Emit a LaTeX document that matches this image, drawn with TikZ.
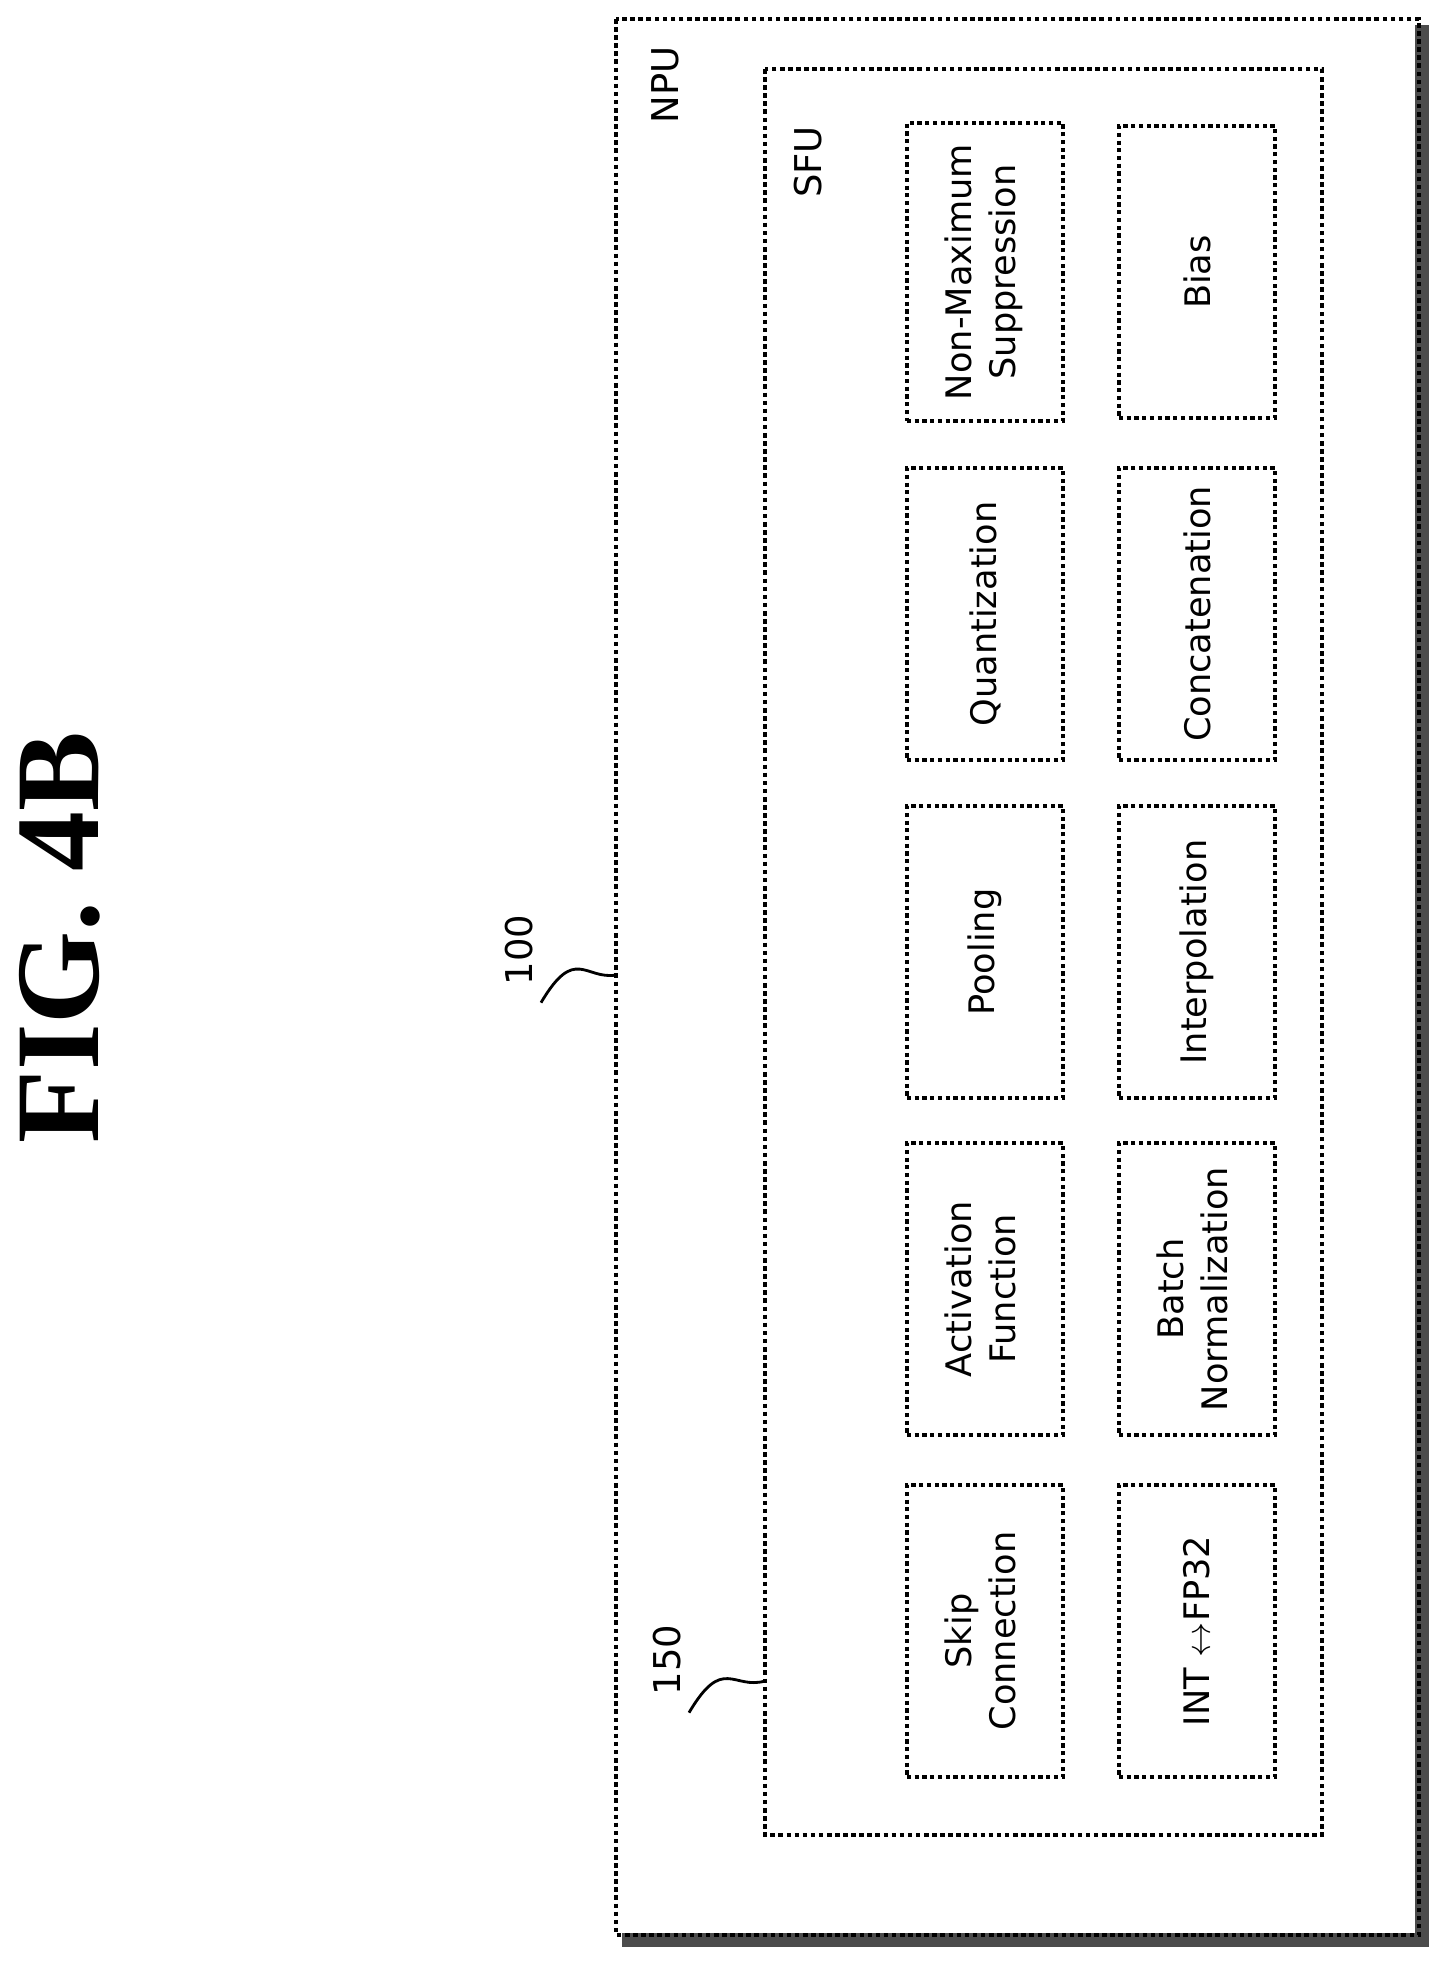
\documentclass[tikz,border=0pt]{standalone}
\usepackage{fontspec}
\setmainfont{DejaVu Sans}
\newfontfamily\figfont{Liberation Serif}
\usetikzlibrary{shapes,arrows}
\tikzstyle{block} = [rectangle, draw, densely dotted, line width=1.2pt, inner sep=0pt,
    minimum width=1.56cm, minimum height=2.92cm, align=center, font=\fontsize{10}{12.5}\selectfont]
\tikzstyle{frame} = [draw, densely dotted, line width=1.3pt]
\tikzstyle{lbl} = [rotate=90, font=\fontsize{10.5}{13}\selectfont]

\begin{document}
\begin{tikzpicture}[x=0.01cm, y=-0.01cm]
		\useasboundingbox (0,0) rectangle (1451,1965);
		\node [rotate=90, font=\figfont\bfseries\fontsize{34}{40}\selectfont] (fig) at (60,938) {FIG. 4B};
		
		\draw [line width=4pt, gray!60!black] (1422,25) -- (1422,1940) -- (622,1940);
		\draw [frame] (616,19) rectangle (1419,1935);
		\draw [frame] (765,69) rectangle (1322,1835);
		\node [lbl] (npu) at (665,85) {NPU};
		\node [lbl] (sfu) at (808,162) {SFU};
		
		\node [lbl] (n100) at (519,950) {100};
		\coordinate (e100) at (616,975);
		\draw [thick] (n100.west) ++(22,5) coordinate (s100) .. controls (575,945) and (585,980) .. (e100);
		\node [lbl] (n150) at (667,1660) {150};
		\coordinate (e150) at (765,1681);
		\draw [thick] (n150.west) ++(22,5) coordinate (s150) .. controls (723,1655) and (733,1690) .. (e150);
		
		\node [block] (nms) at (985,272) {\rotatebox{90}{\begin{tabular}{c}Non-Maximum\\Suppression\end{tabular}}};
		\node [block] (quant) at (985,614) {\rotatebox{90}{Quantization}};
		\node [block] (pool) at (985,952) {\rotatebox{90}{Pooling}};
		\node [block] (act) at (985,1289) {\rotatebox{90}{\begin{tabular}{c}Activation\\Function\end{tabular}}};
		\node [block] (skip) at (985,1631) {\rotatebox{90}{\begin{tabular}{c}Skip\\Connection\end{tabular}}};
		\node [block] (bias) at (1197,272) {\rotatebox{90}{Bias}};
		\node [block] (concat) at (1197,614) {\rotatebox{90}{Concatenation}};
		\node [block] (interp) at (1197,952) {\rotatebox{90}{Interpolation}};
		\node [block] (bnorm) at (1197,1289) {\rotatebox{90}{\begin{tabular}{c}Batch\\Normalization\end{tabular}}};
		\node [block] (conv) at (1197,1631) {\rotatebox{90}{INT $\leftrightarrow$FP32}};
	\end{tikzpicture}
\end{document}
